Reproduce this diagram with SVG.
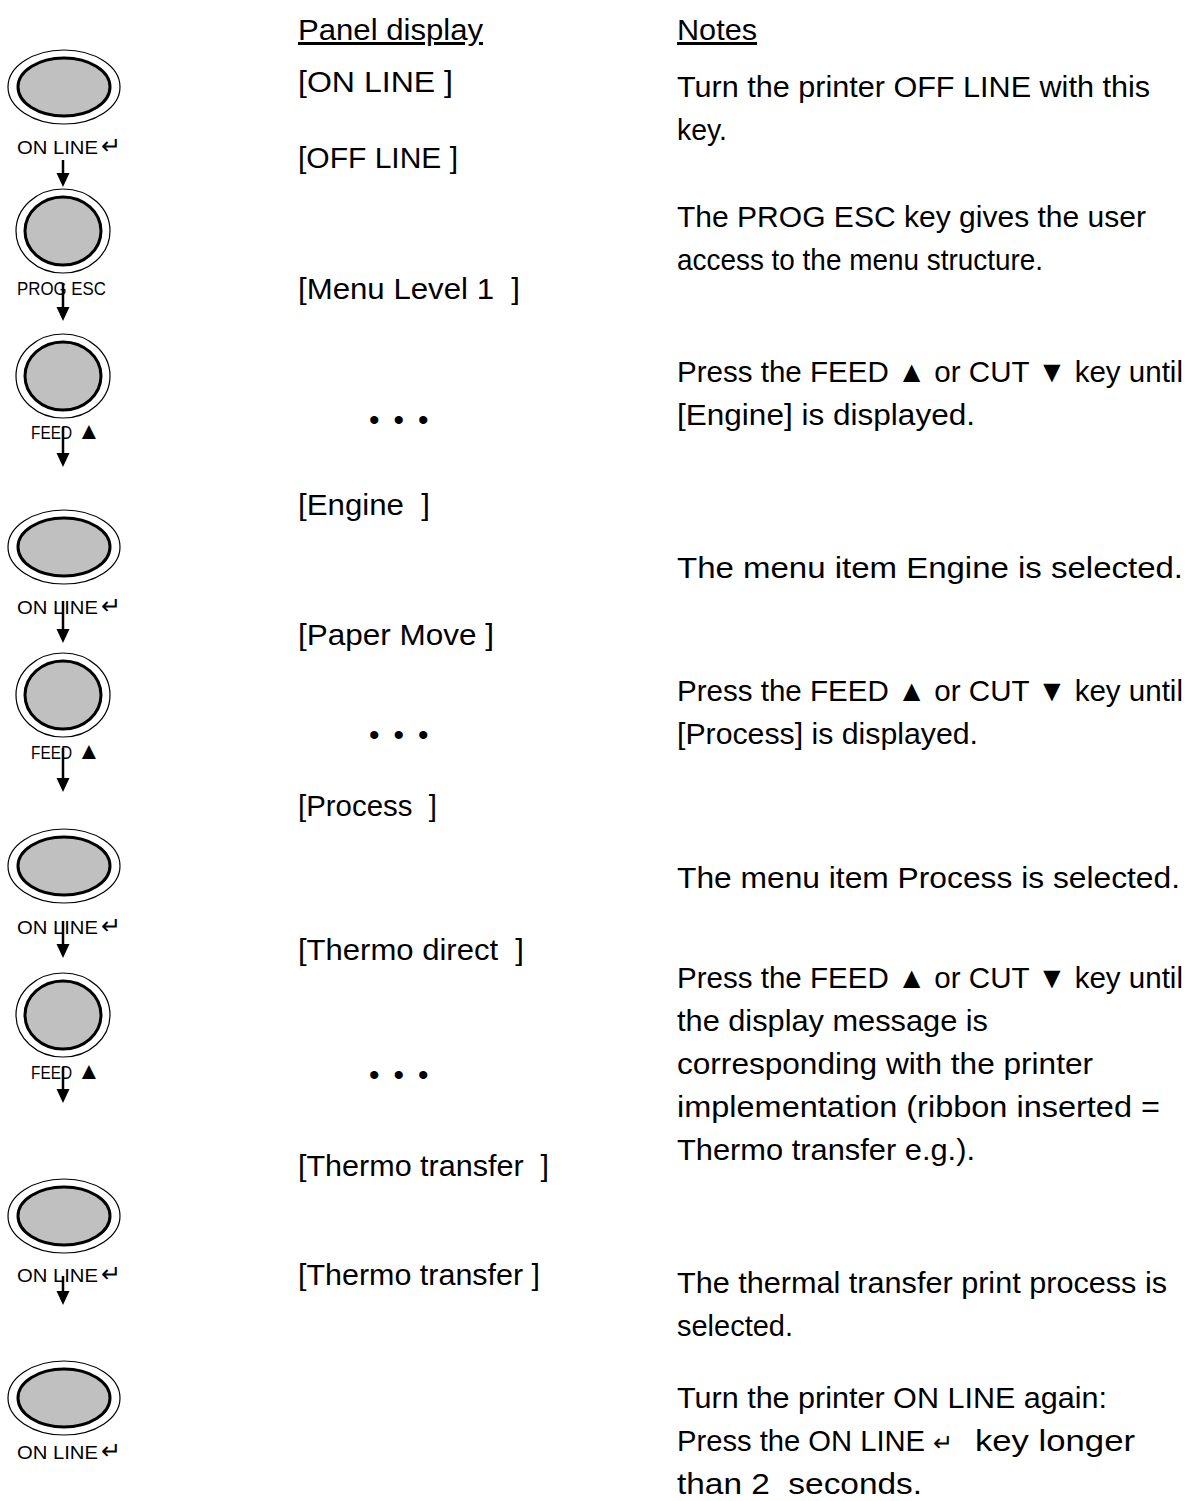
<svg xmlns="http://www.w3.org/2000/svg" width="1193" height="1501" viewBox="0 0 1193 1501">
<style>
  .bo { fill: none; stroke: #000; stroke-width: 1.2; }
  .bi { fill: #c0c0c0; stroke: #000; stroke-width: 3; }
  .lbl { font-family: "Liberation Sans", Arial, sans-serif; font-size: 18px; fill: #000; }
  .sym { font-family: "Liberation Sans", Arial, sans-serif; font-size: 24px; }
  .t { font-family: "Liberation Sans", Arial, sans-serif; font-size: 30px; fill: #000; white-space: pre; }
  .u { text-decoration: underline; }
  .conn { stroke: #000; stroke-width: 2.5; fill: none; marker-end: url(#ah); }
</style>
<defs>
  <marker id="ah" markerUnits="userSpaceOnUse" markerWidth="14" markerHeight="14" viewBox="0 0 14 14" refX="6" refY="7" orient="auto">
    <path d="M0,0.5 L14,7 L0,13.5 z" fill="#000"/>
  </marker>
  <g id="wide">
    <ellipse class="bo" cx="0" cy="0" rx="56" ry="37"/>
    <ellipse class="bi" cx="0" cy="0" rx="46" ry="29"/>
  </g>
  <g id="round">
    <ellipse class="bo" cx="0" cy="0" rx="47" ry="42"/>
    <ellipse class="bi" cx="0" cy="0" rx="38" ry="34"/>
  </g>
</defs>
<rect width="1193" height="1501" fill="#fff"/>

<g id="connectors">
  <line class="conn" x1="63" y1="160" x2="63" y2="179"/>
  <line class="conn" x1="63" y1="283" x2="63" y2="313"/>
  <line class="conn" x1="63" y1="427" x2="63" y2="459"/>
  <line class="conn" x1="63" y1="601" x2="63" y2="635"/>
  <line class="conn" x1="63" y1="748" x2="63" y2="784"/>
  <line class="conn" x1="63" y1="921" x2="63" y2="950"/>
  <line class="conn" x1="63" y1="1067" x2="63" y2="1095"/>
  <line class="conn" x1="63" y1="1276" x2="63" y2="1297"/>
</g>

<g id="key1"><use href="#wide" x="64" y="87"/><text class="lbl" y="154"><tspan x="17" textLength="81" lengthAdjust="spacingAndGlyphs">ON LINE</tspan><tspan class="sym" x="101">↵</tspan></text></g>
<g id="key2"><use href="#round" x="63" y="231"/><text class="lbl" x="17" y="295" textLength="89" lengthAdjust="spacingAndGlyphs">PROG ESC</text></g>
<g id="key3"><use href="#round" x="63" y="376"/><text class="lbl" y="439"><tspan x="31" textLength="41" lengthAdjust="spacingAndGlyphs">FEED</tspan><tspan class="sym" x="77">▲</tspan></text></g>
<g id="key4"><use href="#wide" x="64" y="547"/><text class="lbl" y="614"><tspan x="17" textLength="81" lengthAdjust="spacingAndGlyphs">ON LINE</tspan><tspan class="sym" x="101">↵</tspan></text></g>
<g id="key5"><use href="#round" x="63" y="695"/><text class="lbl" y="759"><tspan x="31" textLength="41" lengthAdjust="spacingAndGlyphs">FEED</tspan><tspan class="sym" x="77">▲</tspan></text></g>
<g id="key6"><use href="#wide" x="64" y="866"/><text class="lbl" y="934"><tspan x="17" textLength="81" lengthAdjust="spacingAndGlyphs">ON LINE</tspan><tspan class="sym" x="101">↵</tspan></text></g>
<g id="key7"><use href="#round" x="63" y="1015"/><text class="lbl" y="1079"><tspan x="31" textLength="41" lengthAdjust="spacingAndGlyphs">FEED</tspan><tspan class="sym" x="77">▲</tspan></text></g>
<g id="key8"><use href="#wide" x="64" y="1216"/><text class="lbl" y="1282"><tspan x="17" textLength="81" lengthAdjust="spacingAndGlyphs">ON LINE</tspan><tspan class="sym" x="101">↵</tspan></text></g>
<g id="key9"><use href="#wide" x="64" y="1398"/><text class="lbl" y="1459"><tspan x="17" textLength="81" lengthAdjust="spacingAndGlyphs">ON LINE</tspan><tspan class="sym" x="101">↵</tspan></text></g>

<g id="panel-display">
  <text class="t u" x="298" y="40" textLength="185" lengthAdjust="spacingAndGlyphs">Panel display</text>
  <text class="t" x="298" y="92" textLength="155" lengthAdjust="spacingAndGlyphs">[ON LINE ]</text>
  <text class="t" x="298" y="168" textLength="160" lengthAdjust="spacingAndGlyphs">[OFF LINE ]</text>
  <text class="t" x="298" y="299" textLength="222" lengthAdjust="spacingAndGlyphs">[Menu Level 1&#160; ]</text>
  <text class="t" x="369 381 393.5 405 418" y="430">• • •</text>
  <text class="t" x="298" y="515" textLength="132" lengthAdjust="spacingAndGlyphs">[Engine&#160; ]</text>
  <text class="t" x="298" y="645" textLength="196" lengthAdjust="spacingAndGlyphs">[Paper Move ]</text>
  <text class="t" x="369 381 393.5 405 418" y="745">• • •</text>
  <text class="t" x="298" y="816" textLength="139" lengthAdjust="spacingAndGlyphs">[Process&#160; ]</text>
  <text class="t" x="298" y="960" textLength="226" lengthAdjust="spacingAndGlyphs">[Thermo direct&#160; ]</text>
  <text class="t" x="369 381 393.5 405 418" y="1085">• • •</text>
  <text class="t" x="298" y="1176" textLength="251" lengthAdjust="spacingAndGlyphs">[Thermo transfer&#160; ]</text>
  <text class="t" x="298" y="1285" textLength="242" lengthAdjust="spacingAndGlyphs">[Thermo transfer ]</text>
</g>

<g id="notes">
  <text class="t u" x="677" y="40" textLength="80" lengthAdjust="spacingAndGlyphs">Notes</text>
  <text class="t" x="677" y="97" textLength="473" lengthAdjust="spacingAndGlyphs">Turn the printer OFF LINE with this</text>
  <text class="t" x="677" y="140" textLength="50" lengthAdjust="spacingAndGlyphs">key.</text>
  <text class="t" x="677" y="227" textLength="469" lengthAdjust="spacingAndGlyphs">The PROG ESC key gives the user</text>
  <text class="t" x="677" y="270" textLength="366" lengthAdjust="spacingAndGlyphs">access to the menu structure.</text>
  <text class="t" x="677" y="382" textLength="506" lengthAdjust="spacingAndGlyphs">Press the FEED ▲ or CUT ▼ key until</text>
  <text class="t" x="677" y="425" textLength="298" lengthAdjust="spacingAndGlyphs">[Engine] is displayed.</text>
  <text class="t" x="677" y="578" textLength="506" lengthAdjust="spacingAndGlyphs">The menu item Engine is selected.</text>
  <text class="t" x="677" y="701" textLength="506" lengthAdjust="spacingAndGlyphs">Press the FEED ▲ or CUT ▼ key until</text>
  <text class="t" x="677" y="744" textLength="301" lengthAdjust="spacingAndGlyphs">[Process] is displayed.</text>
  <text class="t" x="677" y="888" textLength="503" lengthAdjust="spacingAndGlyphs">The menu item Process is selected.</text>
  <text class="t" x="677" y="988" textLength="506" lengthAdjust="spacingAndGlyphs">Press the FEED ▲ or CUT ▼ key until</text>
  <text class="t" x="677" y="1031" textLength="311" lengthAdjust="spacingAndGlyphs">the display message is</text>
  <text class="t" x="677" y="1074" textLength="416" lengthAdjust="spacingAndGlyphs">corresponding with the printer</text>
  <text class="t" x="677" y="1117" textLength="483" lengthAdjust="spacingAndGlyphs">implementation (ribbon inserted =</text>
  <text class="t" x="677" y="1160" textLength="298" lengthAdjust="spacingAndGlyphs">Thermo transfer e.g.).</text>
  <text class="t" x="677" y="1293" textLength="490" lengthAdjust="spacingAndGlyphs">The thermal transfer print process is</text>
  <text class="t" x="677" y="1336" textLength="116" lengthAdjust="spacingAndGlyphs">selected.</text>
  <text class="t" x="677" y="1408" textLength="430" lengthAdjust="spacingAndGlyphs">Turn the printer ON LINE again:</text>
  <text class="t" x="677" y="1451"><tspan textLength="248" lengthAdjust="spacingAndGlyphs">Press the ON LINE</tspan><tspan class="sym" x="933">↵</tspan><tspan x="975" textLength="160" lengthAdjust="spacingAndGlyphs">key longer</tspan></text>
  <text class="t" x="677" y="1494" textLength="245" lengthAdjust="spacingAndGlyphs">than 2&#160; seconds.</text>
</g>
</svg>
